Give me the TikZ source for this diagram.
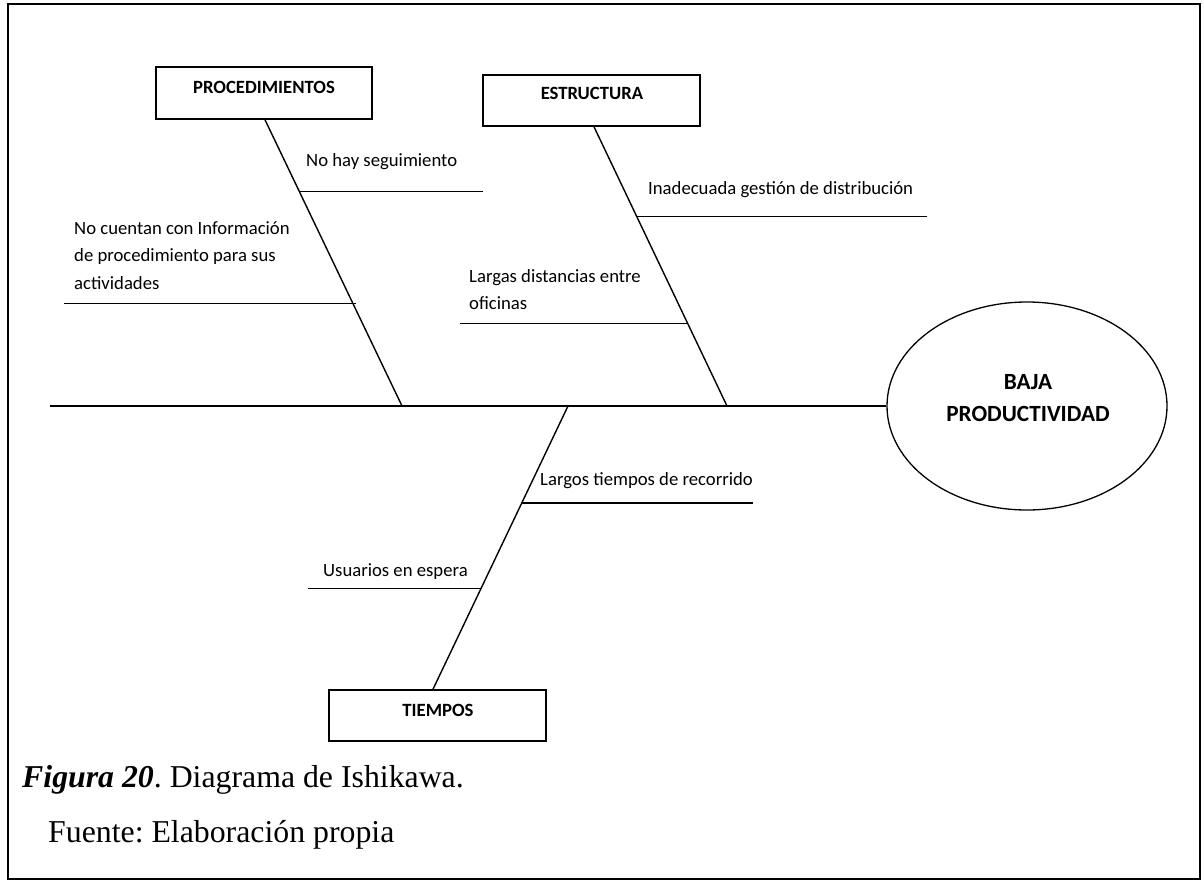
\documentclass[tikz,border=0pt]{standalone}
\usepackage{fontspec}
\setmainfont{Liberation Serif}
\newfontfamily\calibfont{Carlito}
\usetikzlibrary{shapes.geometric,calc}
\frenchspacing
\tikzset{
  bone/.style={line width=1.4pt, draw=black},
  catbox/.style={draw=black, line width=1.6pt, rectangle, inner sep=0pt},
  cattext/.style={font=\calibfont\bfseries\fontsize{18.7}{22}\selectfont, inner sep=0pt},
  efftext/.style={font=\calibfont\bfseries\fontsize{23.2}{32}\selectfont, inner sep=0pt, align=center},
  causetext/.style={font=\calibfont\fontsize{18.7}{27.5}\selectfont, inner sep=0pt, align=left},
  captext/.style={font=\fontsize{31.8}{38}\selectfont, inner sep=0pt, anchor=base west},
  framestyle/.style={line width=1.5pt, draw=black}
}
\begin{document}
\begin{tikzpicture}[x=1pt,y=-1pt]
\useasboundingbox (0,0) rectangle (1204,880);
\fill[white] (0,0) rectangle (1204,880);
% frame
\draw[framestyle] (8,879) -- (8,4) -- (1200,4) -- (1200,879) -- cycle;

% category boxes
\node[catbox, minimum width=216pt, minimum height=52pt] (proc) at (264,93) {};
\node[cattext] (proclbl) at (264,87) {PROCEDIMIENTOS};
\node[catbox, minimum width=217pt, minimum height=51pt] (estr) at (591.5,100.5) {};
\node[cattext] (estrlbl) at (592,93) {ESTRUCTURA};
\node[catbox, minimum width=217pt, minimum height=51pt] (tiem) at (437.5,715.5) {};
\node[cattext] (tiemlbl) at (438,710) {TIEMPOS};

% effect
\node[draw=black, line width=1.3pt, ellipse, minimum width=280pt, minimum height=208pt, inner sep=0pt] (eff) at (1027,406) {};
\node[efftext] (efflbl) at (1028,398) {BAJA\\PRODUCTIVIDAD};

% spine
\coordinate (sp0) at (50,406);
\draw[bone] (sp0) -- (eff.west);

% main bones
\coordinate (pj) at (402,406);
\coordinate (ej) at (727,406);
\coordinate (tj) at (568,406);
\coordinate (ptop) at ([xshift=1pt]proc.south);
\coordinate (etop) at ([xshift=2.5pt]estr.south);
\coordinate (tbot) at ([xshift=-4.5pt]tiem.north);
\draw[bone] (ptop) -- (pj);
\draw[bone] (etop) -- (ej);
\draw[bone] (tbot) -- (tj);

% sub-bones: procedimientos
\coordinate (p1) at ($(ptop)!0.251!(pj)$);
\coordinate (p1e) at (483,0);
\draw[bone] (p1) -- (p1 -| p1e);
\coordinate (p2) at ($(ptop)!0.641!(pj)$);
\coordinate (p2e) at (64,0);
\draw[bone] ([xshift=3pt]p2) -- (p2 -| p2e);
\node[causetext, anchor=west] (c1) at (306,162) {No hay seguimiento};
\node[causetext, anchor=north west] (c2) at (74,221) {No cuentan con Información\\de procedimiento para sus\\actividades};

% sub-bones: estructura
\coordinate (e1) at ($(etop)!0.321!(ej)$);
\coordinate (e1e) at (927,0);
\draw[bone] (e1) -- (e1 -| e1e);
\coordinate (e2) at ($(etop)!0.704!(ej)$);
\coordinate (e2e) at (460,0);
\draw[bone] (e2) -- (e2 -| e2e);
\node[causetext, anchor=west] (c3) at (648,190) {Inadecuada gestión de distribución};
\node[causetext, anchor=north west] (c4) at (469,269) {Largas distancias entre\\oficinas};

% sub-bones: tiempos
\coordinate (t1) at ($(tj)!0.342!(tbot)$);
\coordinate (t1e) at (753,0);
\draw[bone] (t1) -- (t1 -| t1e);
\coordinate (t2) at ($(tj)!0.644!(tbot)$);
\coordinate (t2e) at (308,0);
\draw[bone] (t2) -- (t2 -| t2e);
\node[causetext, anchor=west] (c5) at (540,481) {Largos tiempos de recorrido};
\node[causetext, anchor=west] (c6) at (323,572) {Usuarios en espera};

% caption
\node[captext] (cap1) at (22,787) {\textbf{\textit{Figura 20}}. Diagrama de Ishikawa.};
\node[captext] (cap2) at (48,842) {Fuente: Elaboración propia};
\end{tikzpicture}
\end{document}
